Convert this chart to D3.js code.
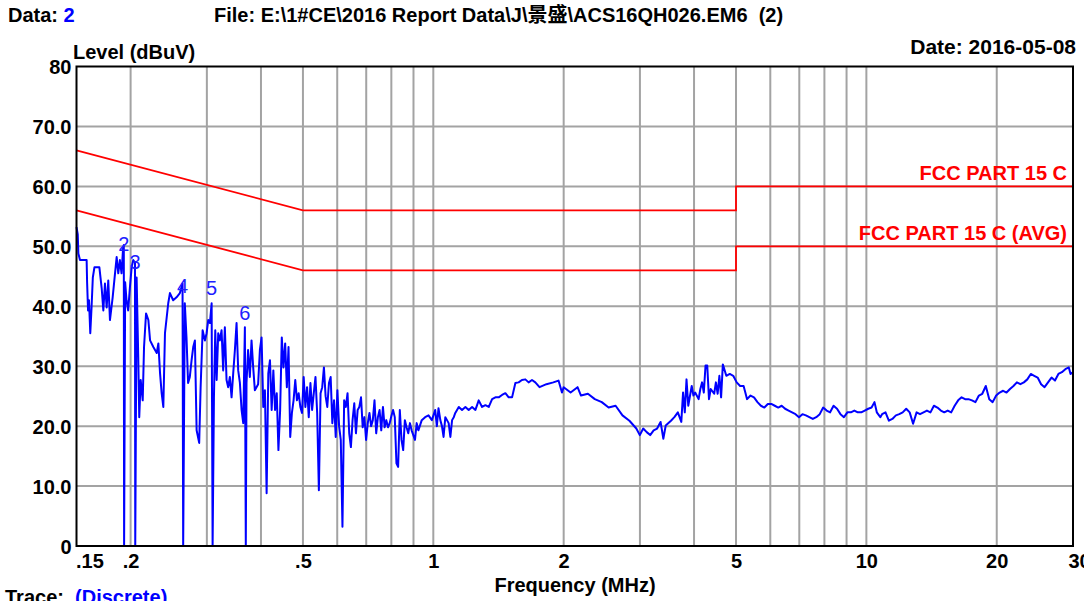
<!DOCTYPE html>
<html><head><meta charset="utf-8">
<script src="https://cdn.jsdelivr.net/npm/d3@7"></script>
<style>
html,body{margin:0;padding:0;background:#fff;}
svg{display:block;}
text{font-family:"Liberation Sans",Arial,"Noto Sans CJK SC",sans-serif;}
</style></head><body>
<svg id="c" width="1084" height="601"></svg>
<script>
// ---- data ----
const traceFreqMHz = [
.150,.151,.1515,.1528,.1583,.1587,.1595,.1603,.1614,.1625,.1636,.1650,.1694,.1715,.1730,.1745,.1761,.1776,.1792,.1818,
.1841,.1857,.1873,.1889,.1906,.1922,.1929,.1932,.1943,.1957,.1974,.1992,.2011,.2028,.2047,.2050,.2065,.2083,.2094,.2110,
.2133,.2148,.2171,.2198,.2218,.2257,.2298,.2318,.2339,.2359,.2380,.2401,.2443,.2465,.2508,.2553,.2599,.2636,.2645,.2668,
.2692,.2715,.2740,.2766,.2790,.2815,.2841,.2880,.2902,.2933,.2969,.2996,.3022,.3049,.3077,.3093,.3115,.3137,.3160,.3187,
.3215,.3244,.3272,.3301,.3331,.3360,.3390,.3421,.3451,.3482,.3513,.3544,.3576,.3608,.3640,.3672,.3690,
.3704,.3735,.3770,.3804,.3838,.3872,.3940,.3977,.4013,.4049,.4085,.4122,.4159,.4196,.4234,.4272,.4311,.4350,.4389,.4429,
.4468,.4508,.4549,.4590,.4631,.4673,.4715,.4757,.4800,.4843,.4887,.4931,.4975,.5020,.5065,.5111,.5157,.5203,.5250,.5297,
.5345,.5393,.5442,.5491,.5540,.5590,.5640,.5691,.5742,.5794,.5846,.5899,.5952,.6005,.6060,.6114,.6169,.6225,.6281,.6338,
.6395,.6452,.6510,.6569,.6628,.6688,.6748,.6809,.6870,.6932,.6995,.7058,.7121,.7185,.7250,.7315,.7381,.7448,.7515,.7582,
.7651,.7720,.7789,.7859,.7930,.8002,.8074,.8147,.8220,.8294,.8369,.8444,.8520,.8597,.8675,.8753,.8832,.8911,.9072,.9154,
.9237,.9404,.9574,.9748,.9924,1.010,1.019,1.028,1.038,1.047,1.056,1.066,1.085,1.095,1.105,1.115,1.124,1.145,1.165,1.186,
1.207,1.229,1.251,1.273,1.296,1.319,1.343,1.367,1.391,1.416,1.441,1.467,1.493,1.520,1.547,1.574,1.602,1.631,1.660,1.690,
1.720,1.759,1.825,1.893,1.946,1.982,2.000,2.075,2.153,2.193,2.275,2.360,2.449,2.540,2.636,2.734,2.837,2.943,2.998,3.053,
3.110,3.168,3.227,3.287,3.348,3.397,3.441,3.538,3.603,3.670,3.738,3.773,3.808,3.843,3.879,3.951,3.987,4.024,4.099,4.136,
4.175,4.213,4.252,4.291,4.331,4.371,4.452,4.493,4.535,4.577,4.619,4.662,4.749,4.837,4.927,5.018,5.111,5.206,5.254,5.303,
5.401,5.502,5.604,5.708,5.814,5.922,6.032,6.144,6.258,6.374,6.492,6.613,6.736,6.861,6.988,7.118,7.250,7.384,7.522,7.661,
7.804,7.948,8.096,8.246,8.399,8.555,8.714,8.876,9.041,9.209,9.380,9.554,9.731,9.912,10.10,10.28,10.44,10.57,10.77,10.87,
11.07,11.27,11.48,11.70,11.91,12.13,12.36,12.59,12.82,13.06,13.30,13.55,13.80,14.06,14.32,14.59,14.86,15.13,15.41,15.70,
15.99,16.29,16.59,16.90,17.21,17.53,17.86,18.19,18.52,18.87,19.22,19.57,19.94,20.31,20.69,21.07,21.46,21.86,22.26,22.68,
23.10,23.53,23.97,24.41,24.86,25.32,25.79,26.27,26.76,27.26,27.76,28.28,28.80,29.34,29.61,30.0
];
const traceLevel = [
53.2,52.0,48.8,47.7,47.7,44.0,39.3,41.0,35.5,39.8,44.8,46.5,46.5,43.0,39.3,43.8,39.8,44.3,37.7,41.5,
45.5,48.2,45.5,47.7,45.5,49.8,50.2,0,44.0,41.0,39.3,43.0,46.5,47.7,47.3,0,44.8,31.5,21.5,27.7,
24.3,33.2,38.8,37.7,34.3,33.2,32.2,33.8,28.8,25.5,23.2,35.5,40.5,42.2,41.0,41.5,42.2,43.8,0,40.5,
34.8,27.2,28.2,31.0,33.2,34.3,19.3,17.2,26.5,36.0,34.3,35.5,37.7,37.2,40.5,0,24.8,36.0,27.7,35.5,
34.3,36.0,29.3,36.5,27.7,26.5,28.2,24.8,28.8,32.7,37.2,29.3,27.2,22.7,20.5,36.5,0,
27.2,32.7,28.2,34.3,29.8,26.0,27.0,32.7,34.8,23.2,26.0,8.8,28.8,31.0,22.7,29.3,22.7,25.5,16.0,22.7,
34.8,29.8,33.8,26.5,33.2,18.2,22.2,24.3,27.7,24.3,25.5,23.2,22.2,28.2,23.2,26.5,21.5,27.2,22.7,25.5,
28.2,22.2,9.3,25.5,26.5,29.8,25.0,23.2,27.2,28.2,20.5,24.3,18.2,26.0,20.0,17.7,3.2,24.3,23.2,25.5,
18.8,16.5,21.0,23.8,18.8,22.7,23.2,24.8,19.8,21.5,17.7,20.5,22.2,20.0,21.0,24.3,18.8,21.5,22.7,19.3,
23.2,19.8,21.0,19.8,20.5,21.7,22.7,21.5,13.8,13.2,22.7,17.7,16.0,21.0,19.8,18.8,20.5,19.3,17.7,20.5,
19.3,21.0,21.5,21.8,21.0,22.7,20.0,23.0,21.0,20.0,18.2,21.5,20.5,18.2,21.0,21.5,22.2,23.2,22.7,23.2,
22.7,23.2,22.7,24.3,23.2,23.5,23.2,24.5,24.8,24.8,25.2,25.5,24.8,24.8,27.2,27.3,27.7,27.8,27.3,27.7,
27.3,26.5,27.0,27.3,27.6,25.6,26.5,25.6,26.5,25.1,25.4,24.5,24.0,23.1,23.4,21.8,20.9,19.6,18.5,19.6,
19.0,18.5,19.3,19.6,20.7,17.9,20.1,20.9,21.5,22.3,20.7,25.6,22.3,27.8,23.4,26.7,25.1,25.6,24.5,26.2,
27.3,25.6,30.1,30.1,24.5,26.2,25.4,27.3,25.4,28.4,24.8,30.3,28.4,28.7,28.4,27.3,26.7,26.7,25.6,24.5,
25.1,24.8,24.0,23.4,23.1,23.7,23.7,23.4,23.1,23.4,22.9,22.6,22.3,22.0,21.5,22.0,21.8,21.5,21.2,21.5,
22.0,23.1,22.6,22.3,23.4,22.9,22.0,21.5,22.3,22.3,22.6,22.3,22.3,22.6,22.9,23.1,24.0,22.3,21.5,22.0,
22.3,20.9,21.2,21.8,22.0,22.3,22.9,22.3,20.4,22.3,22.0,22.3,22.6,22.3,23.4,23.1,22.6,22.3,22.6,22.3,
23.4,24.3,24.8,24.5,24.5,24.3,24.0,25.1,25.4,26.7,24.5,24.0,25.1,25.6,25.9,25.6,26.2,26.7,27.3,27.0,
27.3,27.8,28.7,28.4,28.1,27.0,26.5,27.3,28.1,27.6,28.7,29.0,29.5,29.8,28.7,29.0
];
const qpLimitFreq = [0.15, 0.5, 5, 5, 30];
const qpLimitLevel = [66, 56, 56, 60, 60];
const avgLimitFreq = [0.15, 0.5, 5, 5, 30];
const avgLimitLevel = [56, 46, 46, 50, 50];
const limitNames = ["FCC PART 15 C", "FCC PART 15 C (AVG)"];
const markerLabels = ["2", "3", "4", "5", "6"];
const markerFreq = [0.1929, 0.2047, 0.2636, 0.3077, 0.3672];
const markerLevel = [49.3, 46.2, 42.2, 41.8, 37.7];
const xTickValues = [0.15, 0.2, 0.5, 1, 2, 5, 10, 20, 30];
const xTickLabels = [".15", ".2", ".5", "1", "2", "5", "10", "20", "30"];
const xGridValues = [0.2, 0.3, 0.4, 0.5, 0.6, 0.7, 0.8, 0.9, 1, 2, 3, 4, 5, 6, 7, 8, 9, 10, 20];
const yTickValues = [0, 10, 20, 30, 40, 50, 60, 70, 80];
const yTickLabels = ["0", "10.0", "20.0", "30.0", "40.0", "50.0", "60.0", "70.0", "80"];
const yGridValues = [10, 20, 30, 40, 50, 60, 70];

// ---- layout ----
const L = 76.5, R = 1073, T = 66.5, B = 546;
const svg = d3.select("#c");
const x = d3.scaleLog().domain([0.15, 30]).range([L, R]);
const y = d3.scaleLinear().domain([0, 80]).range([B, T]);
const grey = "#a3a3a3";

// grid
const g = svg.append("g");
g.selectAll("line.v").data(xGridValues).join("line")
  .attr("x1", d => x(d)).attr("x2", d => x(d)).attr("y1", T).attr("y2", B)
  .attr("stroke", grey).attr("stroke-width", 2);
g.selectAll("line.h").data(yGridValues).join("line")
  .attr("x1", L).attr("x2", R).attr("y1", d => y(d)).attr("y2", d => y(d))
  .attr("stroke", grey).attr("stroke-width", 2);

// limits
const lim = d3.line().x(d => x(d[0])).y(d => y(d[1]));
const qp = qpLimitFreq.map((f, i) => [f, qpLimitLevel[i]]);
const avg = avgLimitFreq.map((f, i) => [f, avgLimitLevel[i]]);
[qp, avg].forEach(arr => svg.append("path").attr("d", lim(arr))
  .attr("fill", "none").attr("stroke", "#ff0000").attr("stroke-width", 1.8));
[qp, avg].forEach((arr, i) => svg.append("text")
  .attr("x", 1067).attr("y", y(arr[arr.length - 1][1]) - 6)
  .attr("text-anchor", "end").attr("font-weight", "bold").attr("font-size", 20)
  .attr("fill", "#ff0000").text(limitNames[i]));

// trace
const pts = traceFreqMHz.map((f, i) => [f, traceLevel[i]]);
svg.append("path").attr("d", lim(pts)).attr("fill", "none")
  .attr("stroke", "#0000ff").attr("stroke-width", 2).attr("stroke-linejoin", "round");

// markers
svg.selectAll("text.mk").data(markerLabels).join("text")
  .attr("x", (d, i) => x(markerFreq[i])).attr("y", (d, i) => y(markerLevel[i]))
  .attr("text-anchor", "middle").attr("font-size", 20).attr("fill", "#2020ff").text(d => d);

// frame
svg.append("rect").attr("x", L).attr("y", T).attr("width", R - L).attr("height", B - T)
  .attr("fill", "none").attr("stroke", "#000").attr("stroke-width", 2);

// axes
const xa = svg.append("g").attr("transform", `translate(0,${B})`)
  .call(d3.axisBottom(x).tickValues(xTickValues).tickFormat((d, i) => xTickLabels[i]).tickSize(0));
xa.select(".domain").remove();
xa.selectAll("text").attr("y", 22).attr("dy", 0).attr("font-size", 20).attr("font-weight", "bold")
  .attr("fill", "#000").attr("font-family", '"Liberation Sans",Arial,sans-serif')
  .attr("text-anchor", (d, i) => i === 0 ? "start" : "middle")
  .attr("dx", (d, i) => i === 0 ? -1 : (i === xTickValues.length - 1 ? 6 : 0));
const ya = svg.append("g").attr("transform", `translate(${L},0)`)
  .call(d3.axisLeft(y).tickValues(yTickValues).tickFormat((d, i) => yTickLabels[i]).tickSize(0).tickPadding(5));
ya.select(".domain").remove();
ya.selectAll("text").attr("font-size", 20).attr("font-weight", "bold").attr("fill", "#000")
  .attr("font-family", '"Liberation Sans",Arial,sans-serif').attr("dy", "0.36em");

// texts
function t(xp, yp, anchor, size) {
  return svg.append("text").attr("x", xp).attr("y", yp).attr("text-anchor", anchor || "start")
    .attr("font-size", size || 20).attr("font-weight", "bold").attr("fill", "#000").style("white-space", "pre");
}
const d1 = t(8, 22); d1.append("tspan").text("Data: "); d1.append("tspan").attr("fill", "#0000ff").text("2");
t(214, 22).text("File: E:\\1#CE\\2016 Report Data\\J\\景盛\\ACS16QH026.EM6  (2)");
t(73, 59).text("Level (dBuV)");
t(1076, 54, "end", 21).text("Date: 2016-05-08");
t(575, 592, "middle").text("Frequency (MHz)");
const tr = t(5, 604); tr.append("tspan").text("Trace:  "); tr.append("tspan").attr("fill", "#0000ff").text("(Discrete)");
</script>
</body></html>
